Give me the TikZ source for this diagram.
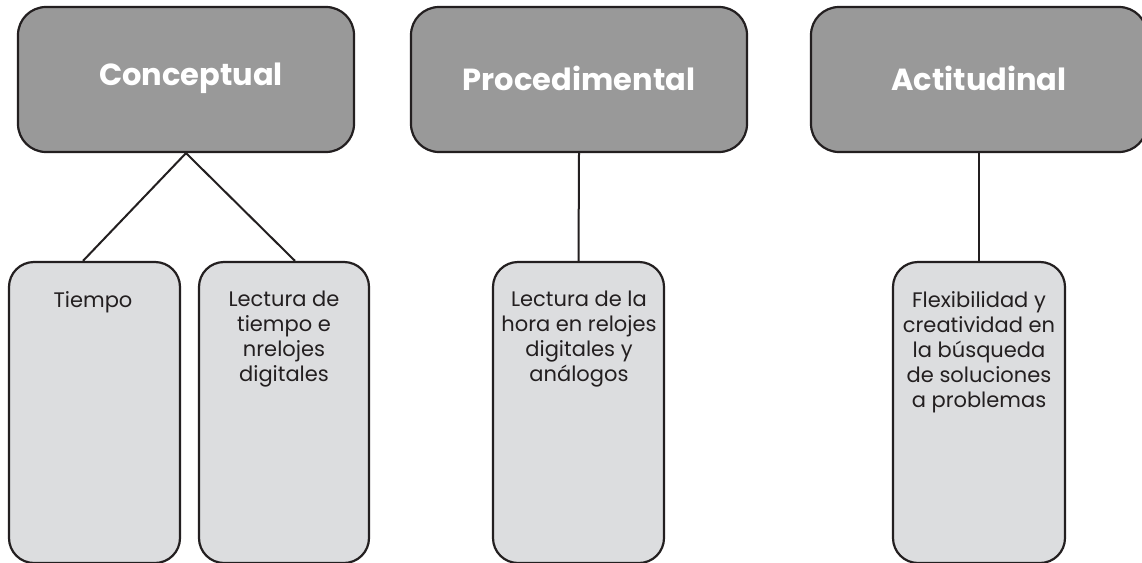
\documentclass[tikz,border=0pt]{standalone}
\usepackage{fontspec}
\setmainfont{Poppins}
\usetikzlibrary{positioning}
\definecolor{headfill}{HTML}{999999}
\definecolor{itemfill}{HTML}{DCDDDF}
\definecolor{ink}{HTML}{231F20}
\begin{document}
\begin{tikzpicture}[x=1pt,y=-1pt,
  headbox/.style={draw=ink, line width=2.2pt, fill=headfill, rounded corners=28pt,
    minimum width=336pt, minimum height=145pt, inner sep=0pt},
  headtext/.style={text=white, inner sep=0pt, font=\bfseries\fontsize{30.5}{36}\selectfont},
  itembox/.style={draw=ink, line width=2.2pt, fill=itemfill, rounded corners=25pt,
    minimum height=301pt, inner sep=0pt},
  itemtext/.style={anchor=north, align=center, inner sep=0pt, text=ink,
    font=\fontsize{21}{25}\selectfont},
  link/.style={draw=ink, line width=2pt}]
\useasboundingbox (0,0) rectangle (1142,562);
\fill[white] (0,0) rectangle (1142,562);

% category headers
\node[headbox] (h1) at (186,79.5) {};
\node[headbox] (h2) at (579,79.5) {};
\node[headbox] (h3) at (979,79.5) {};
\node[headtext] (t1) at (191,78) {Conceptual};
\node[headtext] (t2) at (579,78) {Procedimental};
\node[headtext] (t3) at (979,78) {Actitudinal};

% content boxes
\node[itembox, minimum width=171pt] (b1) at (94.5,412.5) {};
\node[itembox, minimum width=170pt] (b2) at (284,412.5) {};
\node[itembox, minimum width=171pt] (b3) at (578.5,412.5) {};
\node[itembox, minimum width=172pt] (b4) at (979,412.5) {};

\node[itemtext] (c1) at (93,291) {Tiempo};
\node[itemtext] (c2) at (284,291) {Lectura de\\tiempo e\\nrelojes\\digitales};
\node[itemtext] (c3) at (579,291) {Lectura de la\\hora en relojes\\digitales y\\análogos};
\node[itemtext] (c4) at (979,291) {Flexibilidad y\\creatividad en\\la búsqueda\\de soluciones\\a problemas};

% connectors
\draw[link] (h1.south) -- ([xshift=-11.5pt]b1.north);
\draw[link] (h1.south) -- ([xshift=11pt]b2.north);
\draw[link] (h2.south) -- (b3.north);
\draw[link] (h3.south) -- (b4.north);
\end{tikzpicture}
\end{document}
